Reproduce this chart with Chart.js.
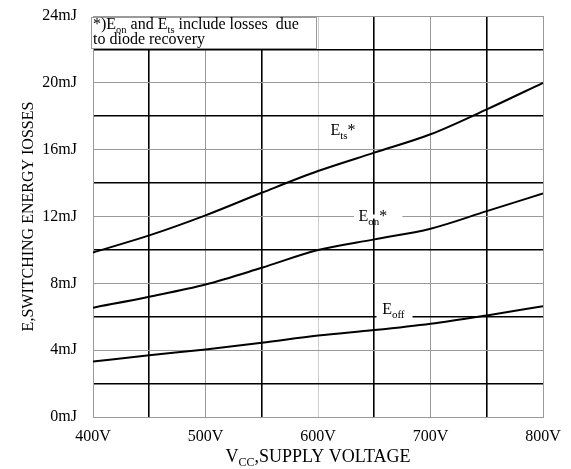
<!DOCTYPE html>
<html>
<head>
<meta charset="utf-8">
<script src="https://cdn.jsdelivr.net/npm/chart.js@4/dist/chart.umd.min.js"></script>
<style>
  html, body { margin: 0; padding: 0; background: #fff; }
  #wrap { width: 571px; height: 469px; }
</style>
</head>
<body>
<div id="wrap"><canvas id="c" width="571" height="469"></canvas></div>
<script>
// Supply voltage (V) and switching energy losses (mJ)
const voltages  = [400, 450, 500, 550, 600, 650, 700, 750, 800];
const etsLoss   = [9.85, 10.87, 12.07, 13.42, 14.72, 15.82, 16.92, 18.41, 20.0];
const eonLoss   = [6.54, 7.20, 7.93, 8.93, 9.99, 10.63, 11.27, 12.32, 13.38];
const eoffLoss  = [3.32, 3.70, 4.04, 4.44, 4.88, 5.20, 5.58, 6.08, 6.63];

// Axis ranges and labelled ticks
const xTickValues = [400, 500, 600, 700, 800];
const yTickValues = [0, 4, 8, 12, 16, 20, 24];
const xUnit = 'V';
const yUnit = 'mJ';

// Curve labels: [voltage, energy] anchor plus rich-text pieces
const curveLabels = [
  { at: [611, 16.86], parts: [['E'], ['ts', 'sub'], ['*']], gap: null },
  { at: [636, 11.72], parts: [['E'], ['on', 'sub'], ['*']], gap: [632, 675, 12] },
  { at: [657, 6.14],  parts: [['E'], ['off', 'sub']],       gap: [652, 684, 6] }
];
const noteLines = [
  [['*)E'], ['on', 'sub'], [' and E'], ['ts', 'sub'], [' include losses  due']],
  [['to diode recovery']]
];
const yTitle = 'E,SWITCHING ENERGY IOSSES';
const xTitleParts = [['V'], ['CC', 'sub'], [',SUPPLY VOLTAGE']];

const SERIF = '"Liberation Serif", "Times New Roman", serif';

function drawRich(ctx, parts, x, y, size, subSize, align) {
  const widths = parts.map(p => {
    ctx.font = (p[1] === 'sub' ? subSize : size) + 'px ' + SERIF;
    return ctx.measureText(p[0]).width;
  });
  const total = widths.reduce((a, b) => a + b, 0);
  let cx = align === 'center' ? x - total / 2 : x;
  ctx.textBaseline = 'alphabetic';
  ctx.textAlign = 'left';
  parts.forEach((p, i) => {
    const sub = p[1] === 'sub';
    ctx.font = (sub ? subSize : size) + 'px ' + SERIF;
    ctx.fillText(p[0], cx, sub ? y + size * 0.22 : y);
    cx += widths[i];
  });
  return total;
}

const annotations = {
  id: 'annotations',
  beforeDatasetsDraw(chart) {
    const { ctx, scales: { x, y } } = chart;
    ctx.save();
    // note box in the top-left corner of the plot
    ctx.fillStyle = '#fff';
    ctx.fillRect(91, 17, 226, 32);
    ctx.strokeStyle = '#9a9a9a';
    ctx.lineWidth = 1;
    ctx.strokeRect(91.5, 17.5, 225, 31);
    // white gaps behind curve labels
    curveLabels.forEach(l => {
      if (!l.gap) return;
      const x0 = x.getPixelForValue(l.gap[0]);
      const x1 = x.getPixelForValue(l.gap[1]);
      const yy = y.getPixelForValue(l.gap[2]);
      ctx.fillRect(x0, yy - 2, x1 - x0, 4);
    });
    ctx.restore();
  },
  afterDatasetsDraw(chart) {
    const { ctx, scales: { x, y } } = chart;
    ctx.save();
    ctx.fillStyle = '#000';
    curveLabels.forEach(l => {
      drawRich(ctx, l.parts, x.getPixelForValue(l.at[0]), y.getPixelForValue(l.at[1]), 16, 11, 'left');
    });
    drawRich(ctx, noteLines[0], 93, 29, 16, 10.5, 'left');
    drawRich(ctx, noteLines[1], 93, 44, 16, 10.5, 'left');
    // axis titles
    drawRich(ctx, xTitleParts, (x.left + x.right) / 2, 462, 18, 12, 'center');
    ctx.translate(33, (y.top + y.bottom) / 2);
    ctx.rotate(-Math.PI / 2);
    ctx.font = '16px ' + SERIF;
    ctx.textAlign = 'center';
    ctx.textBaseline = 'alphabetic';
    ctx.fillText(yTitle, 0, 0);
    ctx.restore();
  }
};

const curveStyle = {
  borderColor: '#000',
  borderWidth: 2,
  pointRadius: 0,
  fill: false,
  cubicInterpolationMode: 'monotone'
};

function gridColor(val, step) {
  const odd = Math.round(val / step) % 2 === 1;
  if (odd) return '#000';
  if (val === 600) return '#cccccc';
  return '#9a9a9a';
}

new Chart(document.getElementById('c'), {
  type: 'line',
  data: {
    datasets: [
      Object.assign({ label: 'Ets', data: voltages.map((v, i) => ({ x: v, y: etsLoss[i] })) }, curveStyle),
      Object.assign({ label: 'Eon', data: voltages.map((v, i) => ({ x: v, y: eonLoss[i] })) }, curveStyle),
      Object.assign({ label: 'Eoff', data: voltages.map((v, i) => ({ x: v, y: eoffLoss[i] })) }, curveStyle)
    ]
  },
  options: {
    responsive: false,
    animation: false,
    devicePixelRatio: 1,
    layout: { padding: { top: 16, right: 28, left: 0, bottom: 0 } },
    plugins: { legend: { display: false }, tooltip: { enabled: false }, title: { display: false } },
    scales: {
      x: {
        type: 'linear',
        min: 400, max: 800,
        afterFit(s) { s.height = 52; s.paddingLeft = 0; s.paddingRight = 0; },
        border: { display: true, color: '#9a9a9a', width: 1 },
        grid: {
          drawTicks: false,
          color: c => gridColor(c.tick.value, 50),
          lineWidth: c => (Math.round(c.tick.value / 50) % 2 === 1 ? 1.6 : 1)
        },
        ticks: {
          stepSize: 50,
          autoSkip: false,
          maxRotation: 0,
          padding: 10,
          color: '#000',
          font: { family: SERIF, size: 16 },
          callback: v => (xTickValues.includes(v) ? v + xUnit : '')
        }
      },
      y: {
        type: 'linear',
        min: 0, max: 24,
        afterFit(s) { s.width = 93; s.paddingTop = 0; s.paddingBottom = 0; },
        border: { display: true, color: '#9a9a9a', width: 1 },
        grid: {
          drawTicks: false,
          color: c => gridColor(c.tick.value, 2),
          lineWidth: c => (Math.round(c.tick.value / 2) % 2 === 1 ? 1.6 : 1)
        },
        ticks: {
          stepSize: 2,
          autoSkip: false,
          padding: 16,
          color: '#000',
          font: { family: SERIF, size: 16 },
          callback: v => (yTickValues.includes(v) ? v + yUnit : '')
        }
      }
    }
  },
  plugins: [annotations]
});
</script>
</body>
</html>
